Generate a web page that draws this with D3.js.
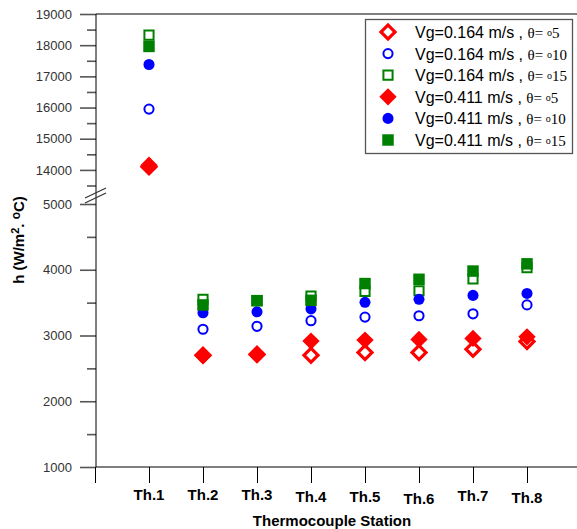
<!DOCTYPE html>
<html>
<head>
<meta charset="utf-8">
<script src="https://cdn.jsdelivr.net/npm/d3@7"></script>
<style>
  body { margin: 0; background: #fff; }
  svg { display: block; font-family: Arial, "Liberation Sans", sans-serif; }
</style>
</head>
<body>
<div id="chart"></div>
<script>
// data
const stations = ["Th.1", "Th.2", "Th.3", "Th.4", "Th.5", "Th.6", "Th.7", "Th.8"];
const h164_5  = [14100, 2700, 2710, 2700, 2740, 2740, 2790, 2910];
const h164_10 = [15950, 3095, 3140, 3225, 3280, 3300, 3330, 3465];
const h164_15 = [18320, 3550, 3530, 3600, 3670, 3680, 3860, 4030];
const h411_5  = [14150, 2695, 2720, 2915, 2930, 2940, 2955, 2980];
const h411_10 = [17380, 3345, 3360, 3405, 3505, 3550, 3610, 3640];
const h411_15 = [17960, 3465, 3530, 3535, 3790, 3855, 3980, 4090];
const upperTicks = [14000, 15000, 16000, 17000, 18000, 19000];
const lowerTicks = [1000, 2000, 3000, 4000, 5000];

const width = 577, height = 529;
const plotLeft = 96, plotTop = 14, plotBottom = 467;
const serif = "'Liberation Serif', 'Times New Roman', serif";

const svg = d3.select("#chart").append("svg")
  .attr("width", width).attr("height", height);

const x = d3.scaleLinear().domain([0, 9]).range([95, 581]);
const yUp = d3.scaleLinear().domain([13500, 19000]).range([185.5, plotTop]);
const yLow = d3.scaleLinear().domain([1000, 5000]).range([plotBottom, 204]);
const y = v => v >= 10000 ? yUp(v) : yLow(v);

// upper y segment
svg.append("g").attr("transform", `translate(${plotLeft},0)`)
  .call(d3.axisLeft(yUp).tickValues(upperTicks).tickSize(16).tickPadding(8).tickFormat(d3.format("d")));
svg.append("g").attr("transform", `translate(${plotLeft},0)`)
  .call(d3.axisLeft(yUp).tickValues(d3.range(13500, 19000, 1000)).tickSize(9).tickFormat(""));
// lower y segment
svg.append("g").attr("transform", `translate(${plotLeft},0)`)
  .call(d3.axisLeft(yLow).tickValues(lowerTicks).tickSize(16).tickPadding(8).tickFormat(d3.format("d")));
svg.append("g").attr("transform", `translate(${plotLeft},0)`)
  .call(d3.axisLeft(yLow).tickValues(d3.range(1500, 5000, 1000)).tickSize(9).tickFormat(""));

svg.selectAll(".domain").remove();
svg.selectAll(".tick line").attr("stroke", "#555").attr("stroke-width", 1.6);
svg.selectAll(".tick text").attr("fill", "#333").style("font-size", "13px");

// x axis
const gx = svg.append("g").attr("transform", `translate(0,${plotBottom})`)
  .call(d3.axisBottom(x).tickValues(d3.range(0, 9)).tickSize(16).tickFormat(""));
gx.select(".domain").remove();
gx.selectAll(".tick line").attr("stroke", "#000").attr("stroke-width", 1);

// axis frame lines
svg.append("line").attr("x1", plotLeft).attr("x2", plotLeft).attr("y1", plotTop).attr("y2", plotBottom)
  .attr("stroke", "#000");
svg.append("line").attr("x1", plotLeft).attr("x2", width).attr("y1", plotBottom).attr("y2", plotBottom)
  .attr("stroke", "#000");
svg.append("line").attr("x1", plotLeft).attr("x2", width).attr("y1", plotTop).attr("y2", plotTop)
  .attr("stroke", "#000").attr("stroke-width", 1.2);

// axis break marks
[193, 198].forEach(cy => {
  svg.append("line")
    .attr("x1", plotLeft - 11).attr("y1", cy + 5)
    .attr("x2", plotLeft + 10).attr("y2", cy - 5)
    .attr("stroke", "#333").attr("stroke-width", 1.2);
});

// station labels (slightly uneven baselines as in the original)
const labelDy = [0, 0, 0, 2, 2, 4, 1, 3];
svg.append("g").selectAll("text")
  .data(stations)
  .join("text")
  .attr("x", (d, i) => x(i + 1))
  .attr("y", (d, i) => 500 + labelDy[i])
  .attr("text-anchor", "middle")
  .style("font-size", "15px").style("font-weight", "bold")
  .text(d => d);

svg.append("text")
  .attr("x", 332).attr("y", 526)
  .attr("text-anchor", "middle")
  .style("font-size", "15px").style("font-weight", "bold")
  .text("Thermocouple Station");

const yl = svg.append("text")
  .attr("transform", "translate(24,240) rotate(-90)")
  .attr("text-anchor", "middle")
  .style("font-size", "15px").style("font-weight", "bold");
yl.append("tspan").text("h (W/m");
yl.append("tspan").attr("dy", -5).style("font-size", "11px").text("2");
yl.append("tspan").attr("dy", 5).text(". ");
yl.append("tspan").attr("dy", -4).style("font-size", "12px").text("o");
yl.append("tspan").attr("dy", 4).text("C)");

// series
const series = [
  { name: "0.164", angle: "5",  values: h164_5,  type: d3.symbolSquare, rot: 45, size: 98,  color: "red",   fill: false, sw: 3.2 },
  { name: "0.164", angle: "10", values: h164_10, type: d3.symbolCircle, rot: 0,  size: 66,  color: "blue",  fill: false, sw: 2 },
  { name: "0.164", angle: "15", values: h164_15, type: d3.symbolSquare, rot: 0,  size: 84,  color: "green", fill: false, sw: 2 },
  { name: "0.411", angle: "5",  values: h411_5,  type: d3.symbolSquare, rot: 45, size: 150, color: "red",   fill: true,  sw: 0 },
  { name: "0.411", angle: "10", values: h411_10, type: d3.symbolCircle, rot: 0,  size: 96,  color: "blue",  fill: true,  sw: 0 },
  { name: "0.411", angle: "15", values: h411_15, type: d3.symbolSquare, rot: 0,  size: 132, color: "green", fill: true,  sw: 0 }
];
const colors = { red: "#ff0000", blue: "#0000ff", green: "#008000" };

function styleMark(sel, s) {
  sel.attr("d", d3.symbol(s.type, s.size))
    .attr("fill", s.fill ? colors[s.color] : "#fff")
    .attr("stroke", s.fill ? "none" : colors[s.color])
    .attr("stroke-width", s.sw);
}

series.forEach(s => {
  svg.append("g").selectAll("path")
    .data(s.values)
    .join("path")
    .attr("transform", (d, i) => `translate(${x(i + 1)},${y(d)}) rotate(${s.rot})`)
    .call(styleMark, s);
});

// legend
const lg = svg.append("g");
lg.append("rect").attr("x", 365.5).attr("y", 19.5).attr("width", 207).attr("height", 134)
  .attr("fill", "#fff").attr("stroke", "#555").attr("stroke-width", 1.3);
const rowY = d3.scaleLinear().domain([0, 5]).range([32, 140]);
series.forEach((s, i) => {
  const cy = rowY(i);
  lg.append("path")
    .attr("transform", `translate(388,${cy}) rotate(${s.rot})`)
    .call(styleMark, s);
  const t = lg.append("text").attr("x", 415).attr("y", cy + 6).style("font-size", "16px");
  t.append("tspan").text(`Vg=${s.name} m/s , `);
  t.append("tspan").style("font-family", serif).style("font-size", "15px").text("θ= ");
  t.append("tspan").style("font-family", serif)
    .style("font-size", "10px").attr("dy", -2).text("o");
  t.append("tspan").style("font-family", serif).style("font-size", "15px")
    .attr("dy", 2).text(s.angle);
});
</script>
</body>
</html>
